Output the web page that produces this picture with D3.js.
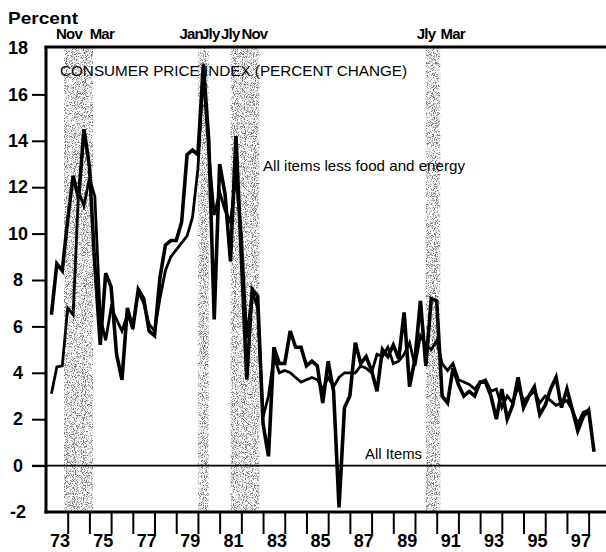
<!DOCTYPE html>
<html>
<head>
<meta charset="utf-8">
<script src="https://cdn.jsdelivr.net/npm/d3@7"></script>
<style>
  body { margin: 0; background: #fff; }
  svg { display: block; font-family: "Liberation Sans", Arial, Helvetica, sans-serif; }
</style>
</head>
<body>
<svg id="chart" width="606" height="552"></svg>
<script>
// Quarterly CPI, annualized percent change (plotted at quarter end), 1973Q1 - 1998Q1
const allItems = [
  6.5, 8.7, 8.4, 10.6,   // 1973
  12.5, 11.5, 14.5, 12.9, // 1974
  8.6, 5.2, 8.3, 7.7,    // 1975
  4.8, 3.7, 6.8, 5.9,    // 1976
  7.6, 7.2, 5.8, 5.6,    // 1977
  8.1, 9.5, 9.7, 9.7,    // 1978
  10.5, 13.4, 13.6, 13.4, // 1979
  17.3, 14.0, 6.3, 13.0, // 1980
  11.7, 8.8, 14.2, 9.0,  // 1981
  3.7, 7.6, 7.3, 1.8,    // 1982
  0.4, 5.1, 4.4, 4.4,    // 1983
  5.8, 5.1, 5.1, 4.3,    // 1984
  4.5, 4.3, 2.7, 4.5,    // 1985
  3.2, -1.8, 2.5, 3.0,   // 1986
  5.3, 4.4, 4.7, 4.1,    // 1987
  3.2, 5.0, 4.7, 5.2,    // 1988
  4.6, 6.6, 3.4, 4.6,    // 1989
  7.1, 4.3, 7.2, 7.1,    // 1990
  3.0, 2.7, 4.2, 3.5,    // 1991
  3.0, 3.2, 3.0, 3.6,    // 1992
  3.6, 3.0, 2.0, 3.3,    // 1993
  2.0, 2.6, 3.8, 2.5,    // 1994
  3.0, 3.4, 2.2, 2.6,    // 1995
  3.3, 3.8, 2.5, 3.3,    // 1996
  2.4, 1.5, 2.1, 2.4,    // 1997
  0.6                    // 1998
];

// All items less food and energy
const coreItems = [
  3.1, 4.25, 4.3, 6.8,
  6.5, 11.8, 11.2, 12.4,
  11.6, 6.4, 5.4, 6.8,
  6.3, 5.8, 6.5, 6.0,
  7.5, 7.0, 6.1, 5.8,
  7.2, 8.4, 9.0, 9.3,
  9.6, 9.9, 10.7, 12.8,
  16.9, 13.5, 10.8, 11.8,
  11.0, 10.5, 12.5, 10.0,
  5.5, 7.5, 6.8, 2.1,
  3.0, 4.7, 4.0, 4.1,
  4.0, 3.8, 3.6, 3.7,
  3.8, 3.7, 3.3, 3.8,
  3.4, 3.8, 4.0, 4.0,
  4.0, 4.3, 4.2, 4.0,
  4.8, 4.7, 5.1, 4.4,
  4.5, 4.8, 5.3, 4.3,
  5.6, 5.2, 5.0, 5.4,
  4.4, 4.1, 4.4, 3.7,
  3.6, 3.5, 3.3, 3.6,
  3.7, 3.2, 3.3, 2.5,
  3.0, 2.7, 3.4, 2.8,
  3.0, 3.2, 2.7, 3.0,
  2.8, 2.6, 2.7, 2.8,
  2.4, 1.8, 2.3, 2.4,
  null
];

// quarter-end dates as decimal years
const quarters = allItems.map(function (d, i) { return 1973.25 + i * 0.25; });

// recessions (start, end) in decimal years
const recessions = [
  [1973 + 10 / 12, 1975 + 2 / 12],
  [1980.0, 1980.5],
  [1981.5, 1982 + 10 / 12],
  [1990.5, 1991 + 2 / 12]
];
// month labels over the recession bands
const recessionLabels = ["Nov", "Mar", "Jan", "Jly", "Jly", "Nov", "Jly", "Mar"];
const recessionLabelDates = [1974.06, 1975.57, 1979.69, 1980.57, 1981.49, 1982.6, 1990.51, 1991.74];

const yTicks = [-2, 0, 2, 4, 6, 8, 10, 12, 14, 16, 18];
const xTickYears = d3.range(1974, 1999);
const xLabelYears = d3.range(1973, 1998, 2);

const svg = d3.select("#chart");
const width = +svg.attr("width");

const x = d3.scaleLinear().domain([1973, 1998.8]).range([46, 606]);
const y = d3.scaleLinear().domain([-2, 18]).range([512, 48]);

// stipple texture for the shaded recession bands
const defs = svg.append("defs");
const f = defs.append("filter").attr("id", "grain")
  .attr("x", 0).attr("y", 0).attr("width", 1).attr("height", 1);
f.append("feTurbulence").attr("type", "fractalNoise")
  .attr("baseFrequency", 1.1).attr("numOctaves", 1).attr("seed", 4).attr("result", "n");
f.append("feColorMatrix").attr("in", "n").attr("type", "matrix")
  .attr("values", "0 0 0 0 0  0 0 0 0 0  0 0 0 0 0  6 0 0 0 -2.9").attr("result", "dots");
f.append("feComposite").attr("in", "dots").attr("in2", "SourceGraphic").attr("operator", "in");

svg.append("g")
  .selectAll("rect")
  .data(recessions)
  .enter()
  .append("rect")
  .attr("x", function (d) { return x(d[0]); })
  .attr("width", function (d) { return x(d[1]) - x(d[0]); })
  .attr("y", y(18))
  .attr("height", y(-2) - y(18))
  .attr("fill", "#000")
  .attr("opacity", 0.55)
  .attr("filter", "url(#grain)");

// zero line
svg.append("line")
  .attr("x1", 32).attr("x2", width)
  .attr("y1", y(0)).attr("y2", y(0))
  .attr("stroke", "#000").attr("stroke-width", 1.6);

// y axis
const yAxis = d3.axisLeft(y).tickValues(yTicks).tickSize(14).tickPadding(0)
  .tickFormat(function (d) { return d; });
const gy = svg.append("g").attr("transform", "translate(46,0)").call(yAxis);
gy.select(".domain").remove();
gy.selectAll("line").attr("stroke", "#000").attr("stroke-width", 2)
  .attr("display", function (d) { return d == 18 || d == -2 ? "none" : null; });
gy.selectAll("text")
  .attr("x", -28).attr("text-anchor", "middle")
  .attr("font-size", 18).attr("font-weight", "bold").attr("fill", "#000")
  .attr("font-family", "Liberation Sans, Arial, sans-serif");

// x axis ticks (year boundaries)
const xAxis = d3.axisBottom(x).tickValues(xTickYears).tickSize(22).tickFormat("");
const gx = svg.append("g").attr("transform", "translate(0," + y(-2) + ")").call(xAxis);
gx.select(".domain").remove();
gx.selectAll("line").attr("stroke", "#000").attr("stroke-width", 2);

// x labels (two digit years, centered in the year)
const xLab = d3.axisBottom(x).tickValues(xLabelYears.map(function (d) { return d + 0.62; }))
  .tickSize(0).tickPadding(0)
  .tickFormat(function (d) { return String(Math.floor(d)).slice(2); });
const gl = svg.append("g").attr("transform", "translate(0," + y(-2) + ")").call(xLab);
gl.select(".domain").remove();
gl.selectAll("text").attr("y", 22).attr("dy", "0.71em")
  .attr("font-size", 18).attr("font-weight", "bold").attr("fill", "#000")
  .attr("font-family", "Liberation Sans, Arial, sans-serif");

// frame: left axis, bottom axis, top border
svg.append("line").attr("x1", 46).attr("x2", 46).attr("y1", y(18) - 1.5).attr("y2", y(-2) + 1.5)
  .attr("stroke", "#000").attr("stroke-width", 3);
svg.append("line").attr("x1", 44.5).attr("x2", width).attr("y1", y(-2)).attr("y2", y(-2))
  .attr("stroke", "#000").attr("stroke-width", 3);
svg.append("line").attr("x1", 44.5).attr("x2", width).attr("y1", y(18) - 1).attr("y2", y(18) - 1)
  .attr("stroke", "#000").attr("stroke-width", 3);

// titles and labels
svg.append("text").attr("x", 8).attr("y", 24).text("Percent")
  .attr("font-size", 17).attr("font-weight", "bold")
  .attr("textLength", 70).attr("lengthAdjust", "spacingAndGlyphs");

svg.append("g")
  .selectAll("text")
  .data(recessionLabels)
  .enter()
  .append("text")
  .attr("x", function (d, i) { return x(recessionLabelDates[i]); })
  .attr("y", 39)
  .attr("text-anchor", "middle")
  .attr("font-size", 15).attr("font-weight", "bold")
  .attr("letter-spacing", -0.8)
  .text(function (d) { return d; });

svg.append("text").attr("x", 60).attr("y", 76)
  .text("CONSUMER PRICE INDEX (PERCENT CHANGE)")
  .attr("font-size", 15)
  .attr("textLength", 347).attr("lengthAdjust", "spacingAndGlyphs");

svg.append("text").attr("x", 263).attr("y", 171)
  .text("All items less food and energy")
  .attr("font-size", 15)
  .attr("textLength", 202).attr("lengthAdjust", "spacingAndGlyphs");

svg.append("text").attr("x", 365).attr("y", 459)
  .text("All Items")
  .attr("font-size", 15)
  .attr("textLength", 57).attr("lengthAdjust", "spacingAndGlyphs");

// the two series
const line = d3.line()
  .defined(function (d) { return d[1] != null; })
  .x(function (d) { return x(d[0]); })
  .y(function (d) { return y(d[1]); });

svg.append("path")
  .datum(quarters.map(function (t, i) { return [t, coreItems[i]]; }))
  .attr("fill", "none")
  .attr("stroke", "#000")
  .attr("stroke-width", 2.8)
  .attr("stroke-linejoin", "miter")
  .attr("d", line);

svg.append("path")
  .datum(quarters.map(function (t, i) { return [t, allItems[i]]; }))
  .attr("fill", "none")
  .attr("stroke", "#000")
  .attr("stroke-width", 3.6)
  .attr("stroke-linejoin", "miter")
  .attr("d", line);
</script>
</body>
</html>
